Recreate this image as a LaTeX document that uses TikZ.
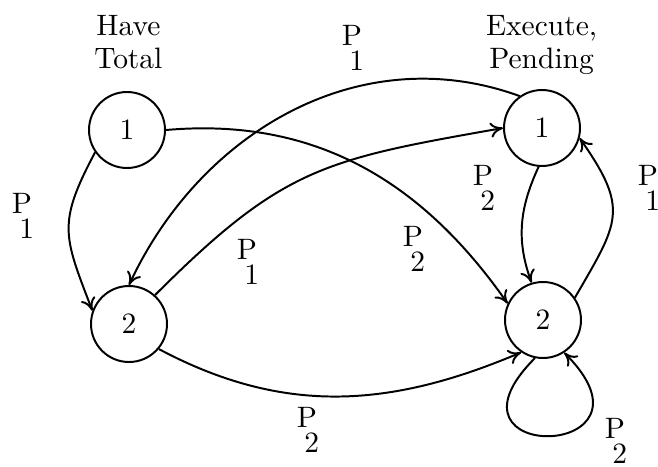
\documentclass[tikz,border=0pt]{standalone}
\usepackage{fontspec}
\setmainfont{lmroman10-regular.otf}
\usepackage{tikz}
\usetikzlibrary{arrows.meta}
\newcommand{\plab}[1]{P\\[-5.7pt]\hspace*{0.25em}#1}

\begin{document}
\begin{tikzpicture}[font=\fontsize{21}{23.5}\selectfont,line width=1.4pt,
   st/.style={draw,circle,minimum size=1.9cm,inner sep=0pt},
   lb/.style={align=left,inner sep=0pt},
   tr/.style={-{To[length=3.2mm,width=3.8mm]}}]
  \useasboundingbox (0,0) rectangle (16.45,11.65);
  % states
  \node[st] (h1) at (3.175,8.4) {1};
  \node[st] (h2) at (3.225,3.55) {2};
  \node[st] (e1) at (13.55,8.45) {1};
  \node[st] (e2) at (13.575,3.65) {2};
  \node[align=center] (ht) at (3.21,10.59) {Have\\Total};
  \node[align=center] (et) at (13.54,10.525) {Execute,\\Pending};
  % transitions
  \draw[tr] (h1.215) to[out=-118,in=111,looseness=1.3] (h2.160);
  \draw[tr] (h1.0) to[out=5,in=125] (e2.155);
  \draw[tr] (e1.125) to[out=160,in=65] (h2.90);
  \draw[tr] (h2.48) to[out=45,in=190,looseness=1.2] (e1.180);
  \draw[tr] (e1.-95) to[out=-115,in=110] (e2.107);
  \draw[tr] (e2.35) to[out=60,in=-55,looseness=1.4] (e1.-15);
  \draw[tr] (h2.-40) to[out=-28,in=203] (e2.-124);
  \draw[tr] (e2.-102) to[out=-135,in=-45,distance=3.8cm] (e2.-57);
  % labels
  \node[lb] (lh) at (0.575,6.25) {\plab{1}};
  \node[lb] (lt) at (8.825,10.44) {\plab{1}};
  \node[lb] (lm) at (6.2,5.09) {\plab{1}};
  \node[lb] (ln) at (10.35,5.43) {\plab{2}};
  \node[lb] (le) at (12.1,6.94) {\plab{2}};
  \node[lb] (lr) at (16.225,6.95) {\plab{1}};
  \node[lb] (lb2) at (7.7,0.89) {\plab{2}};
  \node[lb] (ll) at (15.4,0.625) {\plab{2}};
\end{tikzpicture}
\end{document}
